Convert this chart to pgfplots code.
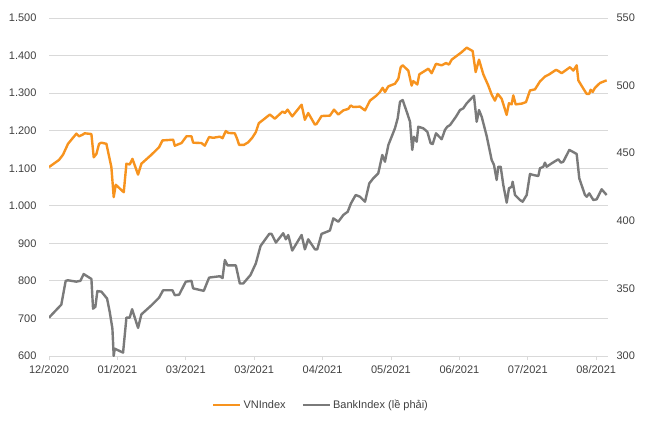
\documentclass[border=0pt]{standalone}
\usepackage{fontspec}
\setmainfont{Liberation Sans}
\usepackage{pgfplots}
\pgfplotsset{compat=1.18}
\definecolor{vnorange}{HTML}{F7931E}
\definecolor{bankgray}{HTML}{7A7A7A}
\definecolor{gridgray}{HTML}{D9D9D9}
\definecolor{txtgray}{HTML}{404040}
\begin{document}
\begin{tikzpicture}[x=1pt,y=1pt]
\path[use as bounding box] (0,0) rectangle (660,420);
\pgfplotsset{
  base/.style={
    at={(49pt,64pt)}, anchor=south west,
    scale only axis, width=559pt, height=338pt,
    xmin=0, xmax=8.173,
    font=\fontsize{11}{13}\selectfont,
    tick label style={text=txtgray},
    /pgf/number format/assume math mode=true,
    /pgf/number format/1000 sep={.},
  }
}
\begin{axis}[base,
  ymin=600, ymax=1500, ytick={600,700,...,1500},
  axis x line*=bottom, axis y line*=left,
  y axis line style={draw=none},
  x axis line style={-, draw=gridgray, line width=0.8pt},
  ytick style={draw=none},
  xtick style={draw=gridgray, line width=0.8pt},
  tick align=outside, major tick length=4pt,
  xtick={0,1,...,8},
  xticklabels={12/2020,01/2021,03/2021,03/2021,04/2021,05/2021,06/2021,07/2021,08/2021},
  ymajorgrids, grid style={gridgray, line width=0.8pt},
  yticklabel style={xshift=-5pt},
  xticklabel style={yshift=-2pt},
]
\addplot[vnorange, line width=2.4pt, line join=round] coordinates {
(0,1103) (0.146,1122) (0.205,1136) (0.278,1165) (0.40,1192) (0.439,1185)
(0.488,1189) (0.522,1193) (0.62,1191) (0.654,1129) (0.693,1138) (0.732,1165)
(0.766,1168) (0.839,1165) (0.912,1103) (0.946,1023) (0.976,1056) (1.093,1036)
(1.132,1112) (1.18,1110) (1.22,1125) (1.302,1083) (1.351,1112) (1.498,1136)
(1.61,1156) (1.659,1174) (1.815,1176) (1.839,1160) (1.937,1167) (2.01,1185)
(2.083,1185) (2.107,1168) (2.229,1167) (2.278,1160) (2.341,1183) (2.40,1181)
(2.498,1184) (2.537,1180) (2.585,1199) (2.62,1194) (2.717,1193) (2.751,1178)
(2.78,1162) (2.849,1162) (2.912,1169) (2.971,1181) (3.024,1196) (3.068,1220)
(3.132,1229) (3.229,1243) (3.302,1232) (3.415,1251) (3.449,1247) (3.488,1256)
(3.556,1238) (3.693,1269) (3.741,1229) (3.79,1247) (3.888,1216) (3.912,1218)
(3.985,1239) (4.107,1240) (4.167,1256) (4.23,1243) (4.303,1254) (4.376,1258)
(4.411,1267) (4.449,1263) (4.547,1264) (4.62,1254) (4.693,1280) (4.791,1294)
(4.839,1303) (4.878,1314) (4.912,1303) (4.961,1318) (5.058,1325) (5.107,1338)
(5.142,1369) (5.171,1374) (5.253,1360) (5.302,1320) (5.326,1332) (5.385,1323)
(5.414,1350) (5.546,1365) (5.595,1353) (5.658,1378) (5.741,1374) (5.804,1380)
(5.848,1376) (5.887,1389) (6.033,1409) (6.107,1421) (6.194,1412) (6.238,1356)
(6.287,1389) (6.35,1350) (6.423,1320) (6.472,1296) (6.52,1280) (6.56,1298)
(6.618,1285) (6.691,1242) (6.725,1273) (6.764,1270) (6.788,1294) (6.823,1270)
(6.91,1272) (6.974,1276) (7.032,1307) (7.105,1310) (7.178,1331) (7.251,1344)
(7.314,1350) (7.412,1362) (7.446,1359) (7.495,1353) (7.617,1369) (7.666,1360)
(7.715,1374) (7.739,1334) (7.812,1312) (7.861,1298) (7.899,1298) (7.919,1309)
(7.949,1303) (7.982,1314) (8.056,1327) (8.153,1334)
};
\end{axis}
\begin{axis}[base,
  ymin=300, ymax=550, ytick={300,350,...,550},
  axis y line*=right, hide x axis,
  y axis line style={draw=none},
  ytick style={draw=none},
  yticklabel style={xshift=5pt},
  legend style={at={(0.4866,-0.145)}, anchor=center, draw=none, fill=none,
    legend columns=2, font=\fontsize{11}{13}\selectfont, text=txtgray,
    /tikz/every even column/.append style={column sep=14pt},
    inner sep=0pt, row sep=0pt},
  legend cell align=left,
  legend image code/.code={\draw[#1] (0pt,0pt) -- (27pt,0pt);},
]
\addlegendimage{vnorange, line width=2.4pt}
\addlegendentry{VNIndex}
\addplot[bankgray, line width=2.4pt, line join=round] coordinates {
(0,328.4) (0.18,338) (0.244,355.6) (0.278,356) (0.40,355) (0.459,355.6)
(0.507,360.6) (0.62,357) (0.644,335) (0.678,336.4) (0.707,348) (0.766,347.6)
(0.849,342.5) (0.888,332.6) (0.927,320.3) (0.946,300) (0.961,305.4) (1.083,302.5)
(1.132,328.4) (1.18,328.4) (1.215,334.6) (1.302,320.8) (1.351,330.8) (1.498,337.5)
(1.61,343.2) (1.668,348.6) (1.805,348.6) (1.839,345) (1.902,345.3) (2.0,355)
(2.083,355.6) (2.107,350) (2.263,348.2) (2.341,358) (2.498,359) (2.537,357.6)
(2.571,371) (2.61,367) (2.732,367) (2.79,353.6) (2.839,353.6) (2.946,359.9)
(3.024,368.5) (3.093,381.4) (3.22,390.3) (3.254,390.3) (3.317,383.9) (3.424,390.8)
(3.463,386.3) (3.498,389.5) (3.556,378) (3.693,389.5) (3.741,378.9) (3.79,386.3)
(3.888,378.9) (3.922,378.9) (3.985,390.3) (4.107,392.8) (4.157,401.8) (4.23,399.3)
(4.303,404.3) (4.367,406.7) (4.415,412.9) (4.484,419.1) (4.547,417.8) (4.62,414.1)
(4.683,427.7) (4.741,431.4) (4.814,435.1) (4.873,448.7) (4.912,443.7) (4.961,456)
(5.058,468.4) (5.098,475.8) (5.132,488.1) (5.171,489.3) (5.238,479.5) (5.278,473.3)
(5.311,452.4) (5.336,462.2) (5.376,458.5) (5.399,469.6) (5.472,468.4) (5.531,465.9)
(5.58,457.3) (5.61,456.8) (5.658,464.7) (5.741,460.3) (5.789,467.2) (5.823,469.6)
(5.863,470.8) (5.95,477) (6.009,481.9) (6.057,483.2) (6.107,486.9) (6.213,492.5)
(6.253,473.3) (6.287,481.9) (6.326,477) (6.399,462.7) (6.472,445) (6.506,441.3)
(6.545,430.2) (6.569,440) (6.604,440) (6.642,426.5) (6.692,413.4) (6.725,424)
(6.765,425.2) (6.779,428.9) (6.813,419.1) (6.886,415.4) (6.925,414.1) (6.984,419.1)
(7.032,434.6) (7.08,433.9) (7.154,433.1) (7.178,438.8) (7.227,440) (7.251,443)
(7.276,440) (7.349,442.5) (7.446,445.5) (7.485,443) (7.519,443.7) (7.607,452.4)
(7.656,451.1) (7.715,449.4) (7.753,431.4) (7.836,419.1) (7.861,417.8) (7.899,420.3)
(7.958,415.4) (8.007,415.9) (8.08,423.3) (8.153,419.1)
};
\addlegendentry{BankIndex (lề phải)}
\end{axis}
\end{tikzpicture}
\end{document}
